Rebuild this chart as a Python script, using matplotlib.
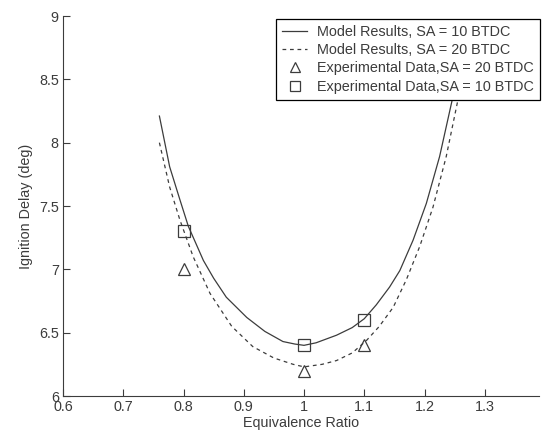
import numpy as np
import matplotlib
matplotlib.use("Agg")
import matplotlib.pyplot as plt

plt.rcParams['font.family'] = ['Liberation Sans', 'DejaVu Sans']

# model curves
phi_10 = [0.760, 0.777, 0.794, 0.808, 0.833, 0.850, 0.871, 0.905, 0.935,
          0.965, 0.985, 1.0, 1.02, 1.054, 1.08, 1.10, 1.12, 1.142, 1.159,
          1.181, 1.203, 1.225, 1.247, 1.262]
delay_10 = [8.21, 7.81, 7.55, 7.34, 7.07, 6.93, 6.78, 6.62, 6.51,
            6.43, 6.41, 6.40, 6.42, 6.48, 6.54, 6.61, 6.72, 6.86, 6.99,
            7.23, 7.52, 7.89, 8.36, 8.70]
phi_20 = [0.760, 0.777, 0.794, 0.816, 0.844, 0.88, 0.915, 0.95, 0.982,
          1.0, 1.03, 1.054, 1.08, 1.104, 1.125, 1.148, 1.170, 1.192, 1.214,
          1.236, 1.256, 1.270]
delay_20 = [8.00, 7.65, 7.39, 7.10, 6.81, 6.55, 6.39, 6.30, 6.25,
            6.23, 6.25, 6.28, 6.34, 6.44, 6.55, 6.70, 6.92, 7.18, 7.49,
            7.89, 8.35, 8.66]

# experimental data
exp_phi = [0.8, 1.0, 1.1]
exp_20 = [7.0, 6.2, 6.4]
exp_10 = [7.3, 6.4, 6.6]

xticks = [0.6, 0.7, 0.8, 0.9, 1.0, 1.1, 1.2, 1.3]
xticklabels = ['0.6', '0.7', '0.8', '0.9', '1', '1.1', '1.2', '1.3']
yticks = [6, 6.5, 7, 7.5, 8, 8.5, 9]
yticklabels = ['6', '6.5', '7', '7.5', '8', '8.5', '9']

col = '#3c3c3c'
fs = 10.4
fig = plt.figure(figsize=(5.42, 4.34), dpi=100)
ax = fig.add_axes([63 / 542, 38 / 434, 476 / 542, 380 / 434])

ax.plot(phi_10, delay_10, '-', color=col, lw=0.9, label='Model Results, SA = 10 BTDC')
ax.plot(phi_20, delay_20, '--', color=col, lw=0.9, dashes=(3, 3),
        label='Model Results, SA = 20 BTDC')
ax.plot(exp_phi, exp_20, '^', color=col, mfc='none', ms=9, mew=0.9, ls='none',
        label='Experimental Data,SA = 20 BTDC')
ax.plot(exp_phi, exp_10, 's', color=col, mfc='none', ms=9, mew=0.9, ls='none',
        label='Experimental Data,SA = 10 BTDC')

ax.set_xlim(0.6, 1.39)
ax.set_ylim(6, 9)
ax.set_xticks(xticks)
ax.set_xticklabels(xticklabels)
ax.set_yticks(yticks)
ax.set_yticklabels(yticklabels)
ax.spines['top'].set_visible(False)
ax.spines['right'].set_visible(False)
for s in ('left', 'bottom'):
    ax.spines[s].set_color(col)
ax.tick_params(direction='in', length=5, colors=col, labelsize=fs, pad=3)
ax.set_xlabel('Equivalence Ratio', fontsize=fs, color=col, labelpad=1)
ax.set_ylabel('Ignition Delay (deg)', fontsize=fs, color=col, labelpad=4)

leg = ax.legend(loc='upper right', bbox_to_anchor=(540 / 542, 1 - 19 / 434),
                bbox_transform=fig.transFigure, fontsize=fs, frameon=True,
                fancybox=False, framealpha=1, borderaxespad=0, borderpad=0.4,
                labelspacing=0.3, handlelength=1.75, handletextpad=0.7,
                markerscale=0.75)
leg.get_frame().set_edgecolor('black')
leg.get_frame().set_linewidth(0.9)
for t in leg.get_texts():
    t.set_color(col)

fig.savefig('out.png', dpi=100)
